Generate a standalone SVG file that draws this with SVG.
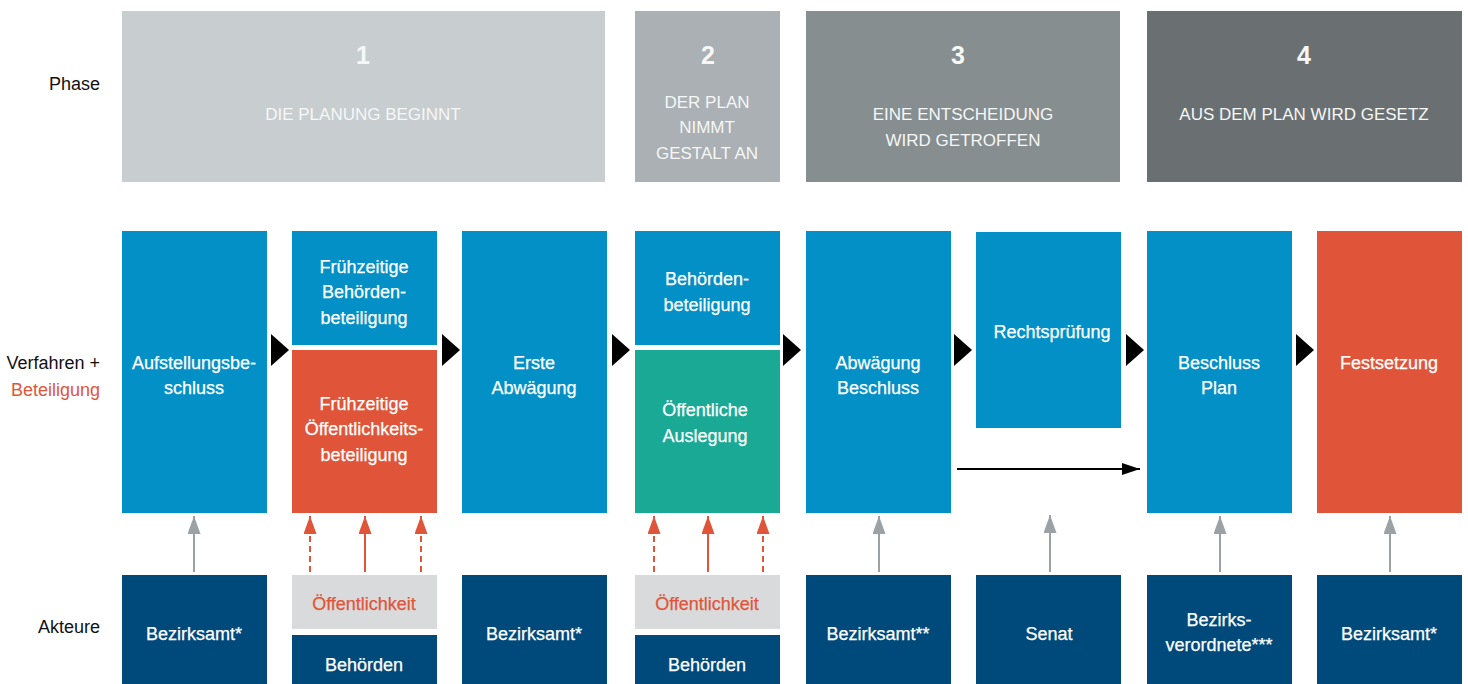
<svg xmlns="http://www.w3.org/2000/svg" width="1468" height="684" viewBox="0 0 1468 684">
<defs>
<style>
text{font-family:"Liberation Sans",Arial,sans-serif;}
.lbl{font-size:18px;fill:#111;text-anchor:end;}
.ph{fill:#f6f7f7;text-anchor:middle;font-size:17px;}
.num{fill:#f6f7f7;text-anchor:middle;font-size:25px;font-weight:bold;}
.w{fill:#ffffff;text-anchor:middle;font-size:18px;stroke:#ffffff;stroke-width:0.25;}
.r{fill:#e0553a;text-anchor:middle;font-size:18px;stroke:#e0553a;stroke-width:0.25;}
.blue{fill:#0290c6;}
.red{fill:#e0553a;}
.teal{fill:#1aa994;}
.navy{fill:#004a7b;}
.lg{fill:#d9dadb;}
.ga{stroke:#9aa2a6;stroke-width:2;fill:none;}
.ra{stroke:#e0553a;stroke-width:2;fill:none;}
.rd{stroke:#e0553a;stroke-width:2;fill:none;stroke-dasharray:6 4;}
</style>
<marker id="hg" viewBox="0 0 18 13" refX="18" refY="6.5" markerWidth="18" markerHeight="13" markerUnits="userSpaceOnUse" orient="auto"><path d="M0,0 L18,6.5 L0,13 z" fill="#9aa2a6"/></marker>
<marker id="hr" viewBox="0 0 18 13" refX="18" refY="6.5" markerWidth="18" markerHeight="13" markerUnits="userSpaceOnUse" orient="auto"><path d="M0,0 L18,6.5 L0,13 z" fill="#e0553a"/></marker>
<marker id="hb" viewBox="0 0 18 12" refX="18" refY="6" markerWidth="18" markerHeight="12" markerUnits="userSpaceOnUse" orient="auto"><path d="M0,0 L18,6 L0,12 z" fill="#000"/></marker>
</defs>
<rect width="1468" height="684" fill="#ffffff"/>

<g id="row-labels">
<text class="lbl" x="100" y="90">Phase</text>
<text class="lbl" x="100" y="369">Verfahren +</text>
<text class="lbl" x="100" y="396" style="fill:#e0553a">Beteiligung</text>
<text class="lbl" x="100" y="633">Akteure</text>
</g>

<g id="phase1"><rect x="122" y="11" width="483" height="171" fill="#c8cdd0"/>
<text class="num" x="363" y="64">1</text>
<text class="ph" x="363" y="120">DIE PLANUNG BEGINNT</text></g>
<g id="phase2"><rect x="635" y="11" width="145" height="171" fill="#aab0b3"/>
<text class="num" x="708" y="64">2</text>
<text class="ph" x="707" y="108">DER PLAN</text>
<text class="ph" x="707" y="133">NIMMT</text>
<text class="ph" x="707" y="159">GESTALT AN</text></g>
<g id="phase3"><rect x="806" y="11" width="314" height="171" fill="#878e90"/>
<text class="num" x="958" y="64">3</text>
<text class="ph" x="963" y="120">EINE ENTSCHEIDUNG</text>
<text class="ph" x="963" y="146">WIRD GETROFFEN</text></g>
<g id="phase4"><rect x="1147" y="11" width="315" height="171" fill="#6a7072"/>
<text class="num" x="1304" y="64">4</text>
<text class="ph" x="1304" y="120">AUS DEM PLAN WIRD GESETZ</text></g>

<g id="step1"><rect class="blue" x="122" y="231" width="145" height="282"/>
<text class="w" x="194" y="369">Aufstellungsbe-</text>
<text class="w" x="194" y="394">schluss</text></g>
<g id="step2a"><rect class="blue" x="292" y="231" width="145" height="114"/>
<text class="w" x="364" y="273">Frühzeitige</text>
<text class="w" x="364" y="298">Behörden-</text>
<text class="w" x="364" y="324">beteiligung</text></g>
<g id="step2b"><rect class="red" x="292" y="350" width="145" height="163"/>
<text class="w" x="364" y="410">Frühzeitige</text>
<text class="w" x="364" y="435">Öffentlichkeits-</text>
<text class="w" x="364" y="461">beteiligung</text></g>
<g id="step3"><rect class="blue" x="462" y="231" width="145" height="282"/>
<text class="w" x="534" y="369">Erste</text>
<text class="w" x="534" y="394">Abwägung</text></g>
<g id="step4a"><rect class="blue" x="635" y="231" width="145" height="114"/>
<text class="w" x="707" y="285">Behörden-</text>
<text class="w" x="707" y="311">beteiligung</text></g>
<g id="step4b"><rect class="teal" x="635" y="350" width="145" height="163"/>
<text class="w" x="705" y="416">Öffentliche</text>
<text class="w" x="705" y="442">Auslegung</text></g>
<g id="step5"><rect class="blue" x="806" y="231" width="145" height="282"/>
<text class="w" x="878" y="369">Abwägung</text>
<text class="w" x="878" y="394">Beschluss</text></g>
<g id="step6"><rect class="blue" x="976" y="232" width="145" height="196"/>
<text class="w" x="1052" y="338">Rechtsprüfung</text></g>
<g id="step7"><rect class="blue" x="1147" y="231" width="145" height="282"/>
<text class="w" x="1219" y="369">Beschluss</text>
<text class="w" x="1219" y="394">Plan</text></g>
<g id="step8"><rect class="red" x="1317" y="231" width="145" height="282"/>
<text class="w" x="1389" y="369">Festsetzung</text></g>

<g id="actor1"><rect class="navy" x="122" y="575" width="145" height="109"/>
<text class="w" x="194" y="640">Bezirksamt*</text></g>
<g id="actor2a"><rect class="lg" x="292" y="575" width="145" height="54"/>
<text class="r" x="364" y="610">Öffentlichkeit</text></g>
<g id="actor2b"><rect class="navy" x="292" y="635" width="145" height="49"/>
<text class="w" x="364" y="671">Behörden</text></g>
<g id="actor3"><rect class="navy" x="462" y="575" width="145" height="109"/>
<text class="w" x="534" y="640">Bezirksamt*</text></g>
<g id="actor4a"><rect class="lg" x="635" y="575" width="145" height="54"/>
<text class="r" x="707" y="610">Öffentlichkeit</text></g>
<g id="actor4b"><rect class="navy" x="635" y="635" width="145" height="49"/>
<text class="w" x="707" y="671">Behörden</text></g>
<g id="actor5"><rect class="navy" x="806" y="575" width="145" height="109"/>
<text class="w" x="878" y="640">Bezirksamt**</text></g>
<g id="actor6"><rect class="navy" x="976" y="575" width="145" height="109"/>
<text class="w" x="1049" y="640">Senat</text></g>
<g id="actor7"><rect class="navy" x="1147" y="575" width="145" height="109"/>
<text class="w" x="1219" y="626">Bezirks-</text>
<text class="w" x="1219" y="651">verordnete***</text></g>
<g id="actor8"><rect class="navy" x="1317" y="575" width="145" height="109"/>
<text class="w" x="1389" y="640">Bezirksamt*</text></g>

<g id="connectors">
<g fill="#000">
<polygon points="271,334 289,350 271,366"/>
<polygon points="442,334 460,350 442,366"/>
<polygon points="612,334 630,350 612,366"/>
<polygon points="783,334 801,350 783,366"/>
<polygon points="954,334 972,350 954,366"/>
<polygon points="1126,334 1144,350 1126,366"/>
<polygon points="1296,334 1314,350 1296,366"/>
</g>
<line x1="957" y1="469" x2="1140" y2="469" stroke="#000" stroke-width="2" marker-end="url(#hb)"/>
<line class="ga" x1="194" y1="572" x2="194" y2="516" marker-end="url(#hg)"/>
<line class="rd" x1="310" y1="572" x2="310" y2="516" marker-end="url(#hr)"/>
<line class="ra" x1="365" y1="572" x2="365" y2="516" marker-end="url(#hr)"/>
<line class="rd" x1="421" y1="572" x2="421" y2="516" marker-end="url(#hr)"/>
<line class="rd" x1="654" y1="572" x2="654" y2="516" marker-end="url(#hr)"/>
<line class="ra" x1="708" y1="572" x2="708" y2="516" marker-end="url(#hr)"/>
<line class="rd" x1="763" y1="572" x2="763" y2="516" marker-end="url(#hr)"/>
<line class="ga" x1="879" y1="572" x2="879" y2="516" marker-end="url(#hg)"/>
<line class="ga" x1="1050" y1="572" x2="1050" y2="515" marker-end="url(#hg)"/>
<line class="ga" x1="1220" y1="572" x2="1220" y2="516" marker-end="url(#hg)"/>
<line class="ga" x1="1390" y1="572" x2="1390" y2="516" marker-end="url(#hg)"/>
</g>
</svg>
